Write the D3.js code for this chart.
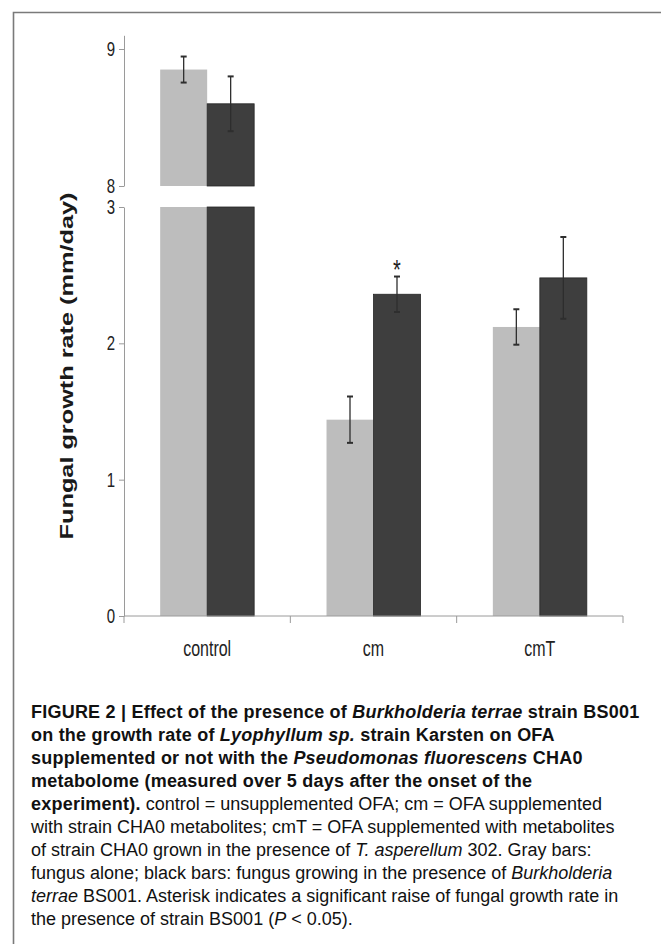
<!DOCTYPE html>
<html>
<head>
<meta charset="utf-8">
<script src="https://cdn.jsdelivr.net/npm/d3@7"></script>
<style>
  body { margin: 0; background: #fff; }
  svg { display: block; font-family: "Liberation Sans", Arial, sans-serif; }
</style>
</head>
<body>
<svg id="fig" width="661" height="944"></svg>
<script>
// values (mm/day)
var categories = ["control", "cm", "cmT"];
var series     = ["alone", "withBS001"];
var aloneMean  = [8.85, 1.44, 2.12];
var aloneErr   = [0.095, 0.17, 0.13];
var bsMean     = [8.60, 2.36, 2.48];
var bsErr      = [0.20, 0.13, 0.30];
var starred    = [false, true, false];   // asterisk over the BS001 bar
var lowTicks   = [0, 1, 2, 3];
var highTicks  = [8, 9];

// caption, one entry per printed line: [text, style]
var caption = [
  [["FIGURE 2 | Effect of the presence of ", "b"], ["Burkholderia terrae", "bi"], [" strain BS001", "b"]],
  [["on the growth rate of ", "b"], ["Lyophyllum sp.", "bi"], [" strain Karsten on OFA", "b"]],
  [["supplemented or not with the ", "b"], ["Pseudomonas fluorescens", "bi"], [" CHA0", "b"]],
  [["metabolome (measured over 5 days after the onset of the", "b"]],
  [["experiment).", "b"], [" control = unsupplemented OFA; cm = OFA supplemented", "r"]],
  [["with strain CHA0 metabolites; cmT = OFA supplemented with metabolites", "r"]],
  [["of strain CHA0 grown in the presence of ", "r"], ["T. asperellum", "i"], [" 302. Gray bars:", "r"]],
  [["fungus alone; black bars: fungus growing in the presence of ", "r"], ["Burkholderia", "i"]],
  [["terrae", "i"], [" BS001. Asterisk indicates a significant raise of fungal growth rate in", "r"]],
  [["the presence of strain BS001 (", "r"], ["P", "i"], [" < 0.05).", "r"]]
];

var svg = d3.select("#fig");
var STRETCH = 1.36;   // the scanned chart is stretched vertically

// frame around the figure
svg.append("path")
  .attr("d", "M13.5,944 V12.5 H661")
  .attr("fill", "none").attr("stroke", "#7a7a7a").attr("stroke-width", 1.6);

// scales: lower panel 0-3, upper panel 8-9 (broken axis)
var x0 = d3.scaleBand().domain(categories).range([124, 623])
  .paddingInner(0.435).paddingOuter(0.2175);
var x1 = d3.scaleBand().domain(series).range([0, x0.bandwidth()]);
var yLow = d3.scaleLinear().domain([0, 3]).range([616, 207]);
var yHigh = d3.scaleLinear().domain([8, 9.1]).range([186, 35.3]);

var data = [];
categories.forEach(function(c, i) {
  data.push({cat: c, s: "alone", v: aloneMean[i], e: aloneErr[i], star: false});
  data.push({cat: c, s: "withBS001", v: bsMean[i], e: bsErr[i], star: starred[i]});
});
var fill = {alone: "#bdbdbd", withBS001: "#3e3e3e"};

// bars, lower panel (clipped at 3)
svg.append("g").selectAll("rect").data(data).join("rect")
  .attr("x", d => x0(d.cat) + x1(d.s))
  .attr("width", x1.bandwidth())
  .attr("y", d => yLow(Math.min(d.v, 3)))
  .attr("height", d => yLow(0) - yLow(Math.min(d.v, 3)))
  .attr("fill", d => fill[d.s])
  .attr("stroke", d => d.s == "alone" ? "none" : "#262626").attr("stroke-width", 0.8);

// bars, upper panel (only values above the break)
var high = data.filter(d => d.v > 8);
svg.append("g").selectAll("rect").data(high).join("rect")
  .attr("x", d => x0(d.cat) + x1(d.s))
  .attr("width", x1.bandwidth())
  .attr("y", d => yHigh(d.v))
  .attr("height", d => yHigh(8) - yHigh(d.v))
  .attr("fill", d => fill[d.s])
  .attr("stroke", d => d.s == "alone" ? "none" : "#262626").attr("stroke-width", 0.8);

// error bars
var eb = svg.append("g").attr("stroke", "#2e2e2e");
data.forEach(function(d) {
  var y = d.v > 8 ? yHigh : yLow;
  var cx = x0(d.cat) + x1(d.s) + x1.bandwidth() / 2;
  eb.append("line").attr("x1", cx).attr("x2", cx)
    .attr("y1", y(d.v - d.e)).attr("y2", y(d.v + d.e)).attr("stroke-width", 1.3);
  [d.v - d.e, d.v + d.e].forEach(function(v) {
    eb.append("line").attr("x1", cx - 3).attr("x2", cx + 3)
      .attr("y1", y(v)).attr("y2", y(v)).attr("stroke-width", 2);
  });
  if (d.star) {
    svg.append("text")
      .attr("transform", "translate(" + cx + "," + (y(d.v + d.e) + 2) + ") scale(1," + STRETCH + ")")
      .attr("text-anchor", "middle").attr("font-size", 20).attr("fill", "#222")
      .text("*");
  }
});

// y axes
function styleAxis(g) {
  g.select(".domain").attr("stroke", "#9a9a9a");
  g.selectAll(".tick line").attr("stroke", "#9a9a9a");
  g.selectAll(".tick text")
    .attr("font-size", 15).attr("fill", "#222")
    .attr("font-family", "'Liberation Sans', Arial, sans-serif")
    .attr("transform", "scale(1," + STRETCH + ")");
}
svg.append("g").attr("transform", "translate(124,0)")
  .call(d3.axisLeft(yLow).tickValues(lowTicks).tickFormat(d3.format("d"))
    .tickSize(5).tickSizeOuter(0).tickPadding(4))
  .call(styleAxis);
svg.append("g").attr("transform", "translate(124,0)")
  .call(d3.axisLeft(yHigh).tickValues(highTicks).tickFormat(d3.format("d"))
    .tickSize(5).tickSizeOuter(0).tickPadding(4))
  .call(styleAxis);

// x axis: baseline, ticks between categories, labels
var xa = svg.append("g");
xa.append("line").attr("x1", 124).attr("x2", 623)
  .attr("y1", yLow(0)).attr("y2", yLow(0)).attr("stroke", "#9a9a9a");
var bounds = categories.map(c => x0(c) - x0.step() * x0.paddingInner() / 2);
bounds.push(623);
xa.selectAll(".sep").data(bounds).join("line")
  .attr("x1", d => d).attr("x2", d => d)
  .attr("y1", yLow(0)).attr("y2", yLow(0) + 7).attr("stroke", "#9a9a9a");
xa.selectAll("text").data(categories).join("text")
  .attr("transform", d => "translate(" + (x0(d) + x0.bandwidth() / 2) + ",656) scale(1," + STRETCH + ")")
  .attr("text-anchor", "middle").attr("font-size", 16).attr("fill", "#222")
  .text(d => d);

// y title
svg.append("text")
  .attr("transform", "translate(72.5,366) scale(1," + STRETCH + ") rotate(-90)")
  .attr("text-anchor", "middle").attr("font-size", 18.6).attr("font-weight", "bold")
  .attr("fill", "#1a1a1a")
  .text("Fungal growth rate (mm/day)");

// caption
var cap = svg.append("g").attr("font-size", 18).attr("fill", "#111");
caption.forEach(function(line, i) {
  var t = cap.append("text").attr("x", 31).attr("y", 718 + i * 23);
  line.forEach(function(seg) {
    var bold = seg[1].indexOf("b") == 0;
    t.append("tspan")
      .attr("font-weight", bold ? "bold" : "normal")
      .attr("font-style", seg[1].indexOf("i") >= 0 ? "italic" : "normal")
      .attr("letter-spacing", bold ? 0.22 : 0)
      .style("white-space", "pre")
      .text(seg[0]);
  });
});
</script>
</body>
</html>
